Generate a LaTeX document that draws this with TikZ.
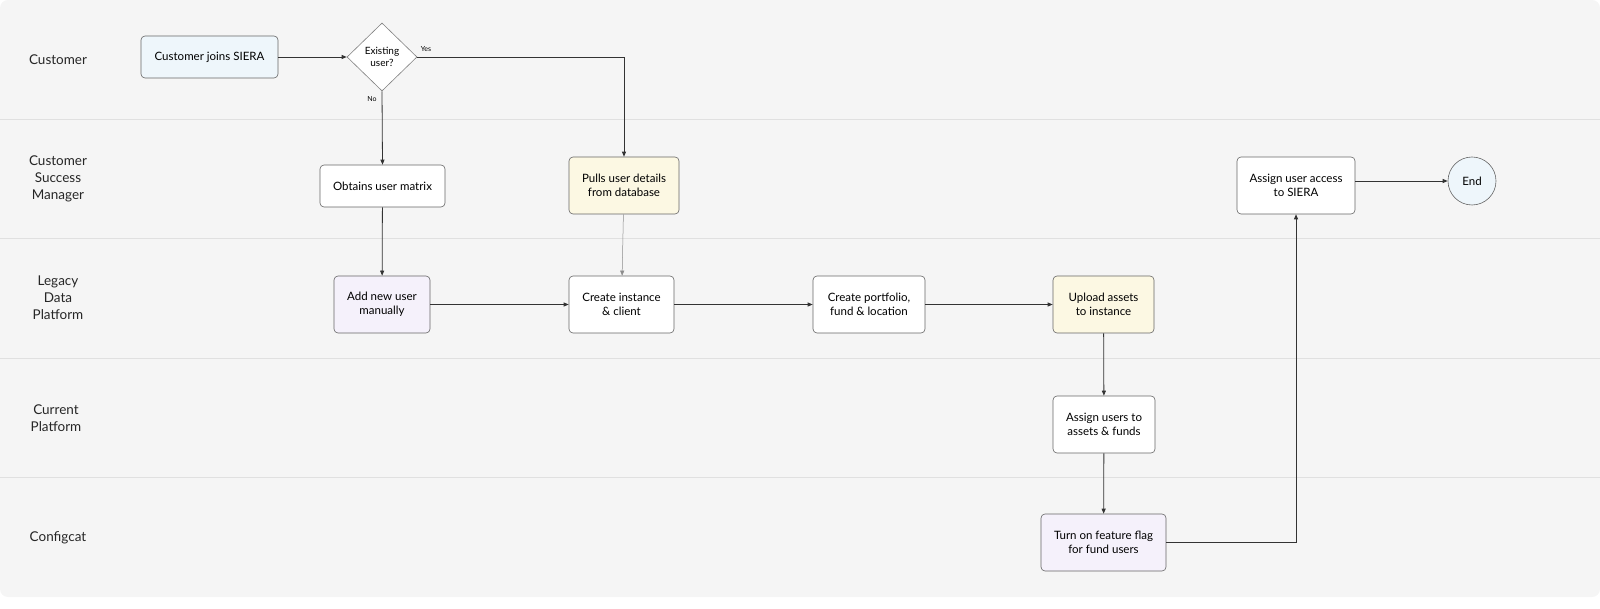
\documentclass[tikz,border=0pt]{standalone}
\usepackage{fontspec}
\setmainfont{Lato}
\usetikzlibrary{shapes.geometric,arrows.meta}
\definecolor{ylw}{HTML}{FCF8E3}
\definecolor{lav}{HTML}{F5F1FB}
\definecolor{lbl}{HTML}{EEF6FB}
\begin{document}
\begin{tikzpicture}[x=1pt,y=-1pt,
 box/.style={draw=black!60,rounded corners=4pt,align=center,font=\fontsize{11.5}{14.5}\selectfont,line width=0.6pt},
 lane/.style={font=\fontsize{13.5}{17}\selectfont,align=center,text=black!85},
 arr/.style={-{Triangle[length=5pt,width=4pt]},draw=black!80,line width=0.8pt},
 lbl/.style={font=\fontsize{7}{8}\selectfont}]
\useasboundingbox (0,0) rectangle (1600,609);
\fill[black!4,rounded corners=8pt] (0,0) rectangle (1600,597);
\foreach \y in {119,238,358,477}{\draw[black!12,line width=0.6pt] (0,\y) -- (1600,\y);}
\node[lane] at (58,60) {Customer};
\node[lane] at (58,179) {Customer\\Success\\Manager};
\node[lane] at (58,298) {Legacy\\Data\\Platform};
\node[lane] at (56,418) {Current\\Platform};
\node[lane] at (58,538) {Configcat};
\node[box,fill=lbl,minimum width=137pt,minimum height=42pt] (join) at (209.5,57) {Customer joins SIERA};
\node[diamond,draw=black!50,fill=white,minimum width=70pt,minimum height=68pt,inner sep=0pt,align=center,font=\fontsize{10}{12}\selectfont,line width=0.6pt] (dec) at (382,57) {Existing\\user?};
\node[box,fill=white,minimum width=125pt,minimum height=42pt] (obt) at (382.5,186) {Obtains user matrix};
\node[box,fill=ylw,minimum width=110pt,minimum height=57pt] (pull) at (624,185.5) {Pulls user details\\from database};
\node[box,fill=white,minimum width=118pt,minimum height=57pt] (acc) at (1296,185.5) {Assign user access\\to SIERA};
\node[circle,draw=black!60,fill=lbl,minimum size=48pt,font=\fontsize{11.5}{14}\selectfont,line width=0.6pt] (end) at (1472,181) {End};
\node[box,fill=lav,minimum width=96pt,minimum height=57pt] (add) at (382,304.5) {Add new user\\manually};
\node[box,fill=white,minimum width=105pt,minimum height=57pt] (inst) at (621.5,304.5) {Create instance\\\& client};
\node[box,fill=white,minimum width=112pt,minimum height=57pt] (port) at (869,304.5) {Create portfolio,\\fund \& location};
\node[box,fill=ylw,minimum width=101pt,minimum height=57pt] (up) at (1103.5,304.5) {Upload assets\\to instance};
\node[box,fill=white,minimum width=102pt,minimum height=57pt] (asg) at (1104,424.5) {Assign users to\\assets \& funds};
\node[box,fill=lav,minimum width=125pt,minimum height=57pt] (flag) at (1103.5,542.5) {Turn on feature flag\\for fund users};
\draw[arr] (join) -- (dec);
\draw[arr] (dec.east) -| (pull.north);
\node[lbl] at (426,49) {Yes};
\draw[arr] (dec.south) -- (obt.north);
\node[lbl] at (372,99) {No};
\draw[arr] (obt) -- (add);
\draw[arr,draw=black!45,line width=0.5pt] (pull) -- (inst);
\draw[arr] (add) -- (inst);
\draw[arr] (inst) -- (port);
\draw[arr] (port) -- (up);
\draw[arr] (up) -- (asg);
\draw[arr] (asg) -- (flag);
\draw[arr] (flag.east) -| (acc.south);
\draw[arr] (acc.east |- end) -- (end);
\end{tikzpicture}
\end{document}
